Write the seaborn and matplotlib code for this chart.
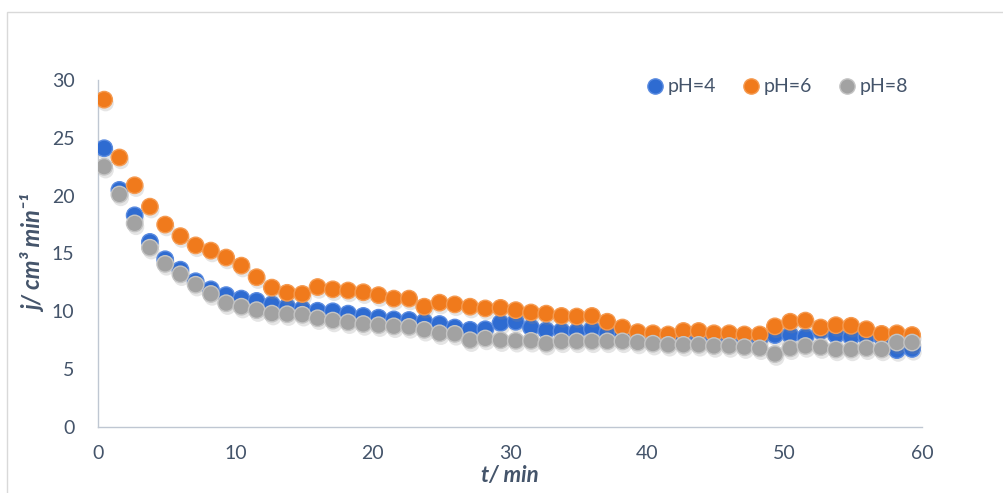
import matplotlib
matplotlib.use("Agg")
import matplotlib.pyplot as plt
import matplotlib.patheffects as pe
from matplotlib.lines import Line2D
from matplotlib.patches import Rectangle
import pandas as pd
import seaborn as sns

# ---- data ----
t_min = [0.45, 1.56, 2.67, 3.78, 4.89, 6.00, 7.11, 8.22, 9.33, 10.44,
         11.55, 12.66, 13.77, 14.88, 15.99, 17.10, 18.21, 19.32, 20.43, 21.54,
         22.65, 23.76, 24.87, 25.98, 27.09, 28.20, 29.31, 30.42, 31.53, 32.64,
         33.75, 34.86, 35.97, 37.08, 38.19, 39.30, 40.41, 41.52, 42.63, 43.74,
         44.85, 45.96, 47.07, 48.18, 49.29, 50.40, 51.51, 52.62, 53.73, 54.84,
         55.95, 57.06, 58.17, 59.28]

j_ph4 = [24.1, 20.5, 18.3, 16.0, 14.5, 13.6, 12.6, 11.9, 11.4, 11.1,
         10.9, 10.6, 10.4, 10.2, 10.05, 10.0, 9.8, 9.6, 9.45, 9.3,
         9.25, 9.1, 8.9, 8.6, 8.4, 8.45, 9.0, 9.1, 8.6, 8.35,
         8.3, 8.25, 8.45, 8.15, 8.1, 7.95, 7.9, 7.8, 7.65, 7.5,
         7.7, 7.7, 7.7, 7.65, 7.95, 7.95, 7.8, 8.3, 7.95, 7.8,
         7.8, 7.8, 6.65, 6.75]

j_ph6 = [28.3, 23.3, 20.9, 19.05, 17.5, 16.5, 15.7, 15.25, 14.65, 13.95,
         12.95, 12.05, 11.6, 11.5, 12.1, 11.9, 11.8, 11.65, 11.4, 11.1,
         11.1, 10.4, 10.75, 10.6, 10.4, 10.25, 10.3, 10.1, 9.9, 9.8,
         9.6, 9.55, 9.6, 9.1, 8.6, 8.2, 8.1, 8.0, 8.3, 8.3,
         8.1, 8.1, 8.0, 8.0, 8.7, 9.1, 9.2, 8.6, 8.8, 8.75,
         8.45, 8.05, 8.1, 7.95]

j_ph8 = [22.5, 20.1, 17.6, 15.5, 14.1, 13.2, 12.3, 11.5, 10.7, 10.4,
         10.1, 9.8, 9.75, 9.7, 9.4, 9.2, 9.05, 8.9, 8.8, 8.7,
         8.65, 8.4, 8.1, 8.05, 7.5, 7.65, 7.5, 7.45, 7.45, 7.2,
         7.4, 7.4, 7.4, 7.4, 7.4, 7.3, 7.2, 7.1, 7.1, 7.1,
         7.0, 7.0, 6.9, 6.8, 6.3, 6.8, 7.0, 6.9, 6.7, 6.7,
         6.8, 6.7, 7.3, 7.3]

series_labels = ["pH=4", "pH=6", "pH=8"]
x_ticks = [0, 10, 20, 30, 40, 50, 60]
y_ticks = [0, 5, 10, 15, 20, 25, 30]

# ---- styling ----
face_colors = ["#2E6BD1", "#F07A1C", "#A2A2A2"]
edge_colors = ["#5A8BE0", "#F59A50", "#C4C4C4"]
text_color = "#44546A"
axis_color = "#BFC7D2"

sns.set_theme(style="white")
plt.rcParams["font.family"] = ["Lato", "DejaVu Sans"]

fig = plt.figure(figsize=(10.04, 4.93), dpi=100)
ax = fig.add_axes([98 / 1004, 1 - 427 / 493, 824 / 1004, 347 / 493])

shadow = [pe.SimplePatchShadow(offset=(1.0, -2.5), shadow_rgbFace="#8a8a8a", alpha=0.22),
          pe.Normal()]

for vals, lab, fc, ec in zip([j_ph4, j_ph6, j_ph8], series_labels, face_colors, edge_colors):
    df = pd.DataFrame({"t": t_min, "j": vals})
    sns.scatterplot(data=df, x="t", y="j", ax=ax, s=140, color=fc,
                    edgecolor=ec, linewidth=1.0, legend=False, zorder=3)
    ax.collections[-1].set_path_effects(shadow)

ax.set_xlim(0, 60)
ax.set_ylim(0, 30)
ax.set_xticks(x_ticks)
ax.set_yticks(y_ticks)
ax.tick_params(axis="both", length=0, labelsize=14, labelcolor=text_color)
ax.tick_params(axis="y", pad=17)
ax.tick_params(axis="x", pad=13)

for side in ["top", "right"]:
    ax.spines[side].set_visible(False)
for side in ["left", "bottom"]:
    ax.spines[side].set_color(axis_color)
    ax.spines[side].set_linewidth(1.0)

ax.set_xlabel("t/ min", fontsize=16, fontweight="bold", fontstyle="italic",
              color=text_color, labelpad=2)
ax.set_ylabel("j/ cm³ min⁻¹", fontsize=17, fontweight="bold", fontstyle="italic",
              color=text_color, labelpad=4)

handles = [Line2D([], [], marker="o", linestyle="none", markersize=11,
                  markerfacecolor=fc, markeredgecolor=ec)
           for fc, ec in zip(face_colors, edge_colors)]
leg = ax.legend(handles, series_labels, loc="center right",
                bbox_to_anchor=(1.005, 0.98), ncol=3, frameon=False,
                handletextpad=0.15, columnspacing=1.3, fontsize=14,
                labelcolor=text_color, handlelength=1.0)

fig.patches.append(Rectangle((7 / 1004, -0.2), 1.2, 0.2 + 1 - 12 / 493,
                             transform=fig.transFigure, fill=False,
                             edgecolor="#D9D9D9", linewidth=1.0))

fig.savefig("out.png", dpi=100)
